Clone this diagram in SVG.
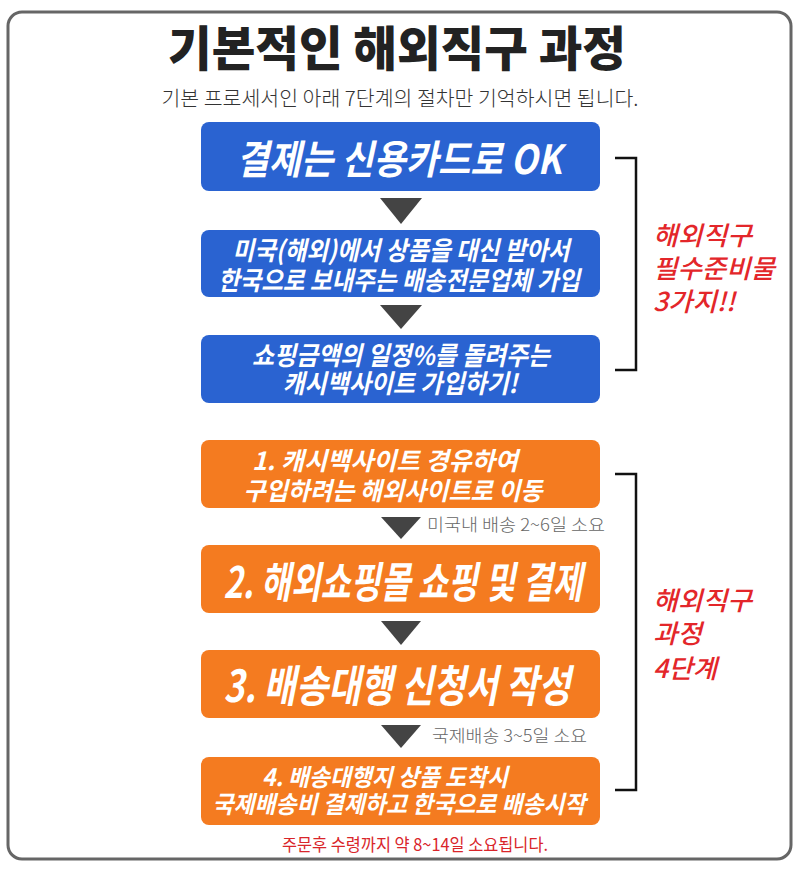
<svg xmlns="http://www.w3.org/2000/svg" width="800" height="873" viewBox="0 0 800 873">
<style>
text{font-family:"Noto Sans CJK KR","Noto Sans",sans-serif}
.box-b{fill:#2a63d1}
.box-o{fill:#f47b20}
.bt{fill:#fff;font-weight:700;font-style:italic;text-anchor:middle}
.arr{fill:#444}
.note{fill:#666;font-size:17px;font-weight:300}
.side{fill:#e3262a;font-weight:500;font-style:italic;font-size:26px}
.br{fill:none;stroke:#111;stroke-width:2.5}
</style>
<rect x="8" y="12" width="783" height="847" rx="14" fill="#fff" stroke="#666" stroke-width="3"/>
<g id="title">
<text x="397" y="66" font-size="48" font-weight="900" fill="#222" text-anchor="middle" textLength="458" lengthAdjust="spacingAndGlyphs">기본적인 해외직구 과정</text>
<text x="400" y="106" font-size="20" font-weight="300" fill="#333" text-anchor="middle" textLength="477" lengthAdjust="spacingAndGlyphs">기본 프로세서인 아래 7단계의 절차만 기억하시면 됩니다.</text>
</g>
<g id="connectors">
<polygon class="arr" points="380,198 422,198 401,224"/>
<polygon class="arr" points="380,305 422,305 401,329"/>
<polygon class="arr" points="381,517 421,517 401,539"/>
<polygon class="arr" points="381,621 421,621 401,645"/>
<polygon class="arr" points="381,725 421,725 401,748"/>
<text class="note" x="427" y="531" textLength="178" lengthAdjust="spacingAndGlyphs">미국내 배송 2~6일 소요</text>
<text class="note" x="432" y="742" textLength="155" lengthAdjust="spacingAndGlyphs">국제배송 3~5일 소요</text>
<path class="br" d="M615,158 H636 V370 H615"/>
<path class="br" d="M615,474 H636 V790 H615"/>
</g>
<g id="b1">
<rect class="box-b" x="201" y="122" width="399" height="69" rx="8"/>
<text class="bt" x="399" y="174" font-size="40" textLength="325" lengthAdjust="spacingAndGlyphs">결제는 신용카드로 OK</text>
</g>
<g id="b2">
<rect class="box-b" x="201" y="230" width="399" height="67" rx="8"/>
<text class="bt" x="401" y="260" font-size="26" textLength="337" lengthAdjust="spacingAndGlyphs">미국(해외)에서 상품을 대신 받아서</text>
<text class="bt" x="399" y="290" font-size="26" textLength="362" lengthAdjust="spacingAndGlyphs">한국으로 보내주는 배송전문업체 가입</text>
</g>
<g id="b3">
<rect class="box-b" x="201" y="335" width="399" height="68" rx="8"/>
<text class="bt" x="401" y="365" font-size="26" textLength="298" lengthAdjust="spacingAndGlyphs">쇼핑금액의 일정%를 돌려주는</text>
<text class="bt" x="400" y="393" font-size="26" textLength="235" lengthAdjust="spacingAndGlyphs">캐시백사이트 가입하기!</text>
</g>
<g id="side1">
<text class="side" x="653" y="245" textLength="99" lengthAdjust="spacingAndGlyphs">해외직구</text>
<text class="side" x="653" y="278" textLength="122" lengthAdjust="spacingAndGlyphs">필수준비물</text>
<text class="side" x="653" y="311" textLength="82" lengthAdjust="spacingAndGlyphs">3가지!!</text>
</g>
<g id="o1">
<rect class="box-o" x="201" y="440" width="399" height="68" rx="8"/>
<text class="bt" x="385" y="470" font-size="25" textLength="266" lengthAdjust="spacingAndGlyphs">1. 캐시백사이트 경유하여</text>
<text class="bt" x="393" y="500" font-size="25" textLength="299" lengthAdjust="spacingAndGlyphs">구입하려는 해외사이트로 이동</text>
</g>
<g id="o2">
<rect class="box-o" x="201" y="545" width="399" height="68" rx="8"/>
<text class="bt" x="403" y="598" font-size="43" textLength="359" lengthAdjust="spacingAndGlyphs">2. 해외쇼핑몰 쇼핑 및 결제</text>
</g>
<g id="o3">
<rect class="box-o" x="201" y="650" width="399" height="68" rx="8"/>
<text class="bt" x="397" y="702" font-size="44" textLength="347" lengthAdjust="spacingAndGlyphs">3. 배송대행 신청서 작성</text>
</g>
<g id="o4">
<rect class="box-o" x="201" y="757" width="399" height="68" rx="8"/>
<text class="bt" x="385" y="786" font-size="24" textLength="246" lengthAdjust="spacingAndGlyphs">4. 배송대행지 상품 도착시</text>
<text class="bt" x="399" y="813" font-size="24" textLength="373" lengthAdjust="spacingAndGlyphs">국제배송비 결제하고 한국으로 배송시작</text>
</g>
<text x="415" y="851" font-size="17" fill="#d9252a" text-anchor="middle" textLength="266" lengthAdjust="spacingAndGlyphs">주문후 수령까지 약 8~14일 소요됩니다.</text>
<g id="side2">
<text class="side" x="653" y="610" textLength="99" lengthAdjust="spacingAndGlyphs">해외직구</text>
<text class="side" x="653" y="643" textLength="49" lengthAdjust="spacingAndGlyphs">과정</text>
<text class="side" x="653" y="678" textLength="64" lengthAdjust="spacingAndGlyphs">4단계</text>
</g>
</svg>
